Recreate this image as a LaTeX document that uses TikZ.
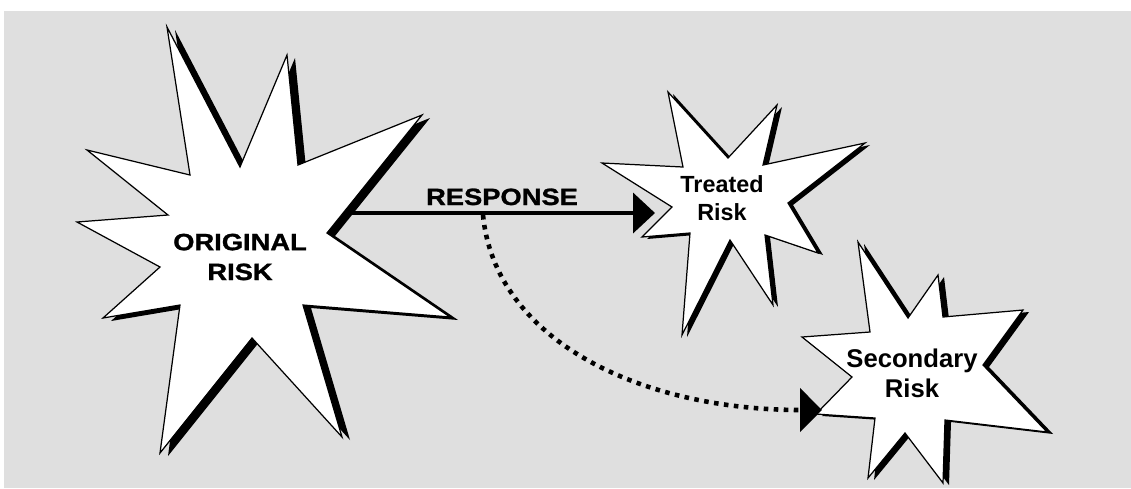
\documentclass[tikz,border=0pt]{standalone}
\usepackage{fontspec}
\setmainfont{Liberation Sans}
\newfontfamily\heavyfont{Liberation Sans}[BoldFeatures={FakeStretch=1.16, FakeBold=1.2}]
\usetikzlibrary{arrows.meta}
\definecolor{panelgray}{RGB}{223,223,223}

% burst with a hard black drop shadow: #1 shadow offset, #2 outline points
\newcommand{\burst}[2]{%
  \fill[black, shift={#1}] #2 -- cycle;
  \filldraw[fill=white, draw=black, line width=0.7pt] #2 -- cycle;
}

\begin{document}
\begin{tikzpicture}[x=0.02cm, y=-0.02cm,
    capslabel/.style={font=\heavyfont\bfseries\fontsize{13.4}{17}\selectfont, align=center, inner sep=0pt},
    burstlabel/.style={font=\bfseries\fontsize{13.3}{16}\selectfont, align=center, inner sep=0pt},
    responsearrow/.style={line width=2.3pt, -{Triangle[length=0.44cm, width=0.8cm]}},
    sidearrow/.style={line width=2.6pt, dash pattern=on 2.6pt off 3.1pt, -{Triangle[length=0.44cm, width=0.86cm]}}]
    \useasboundingbox (0,0) rectangle (1131,488);
    \fill[panelgray] (4,11) rectangle (1131,488);

    % Original risk
    \burst{(8,3)}{(167,27) -- (240,167) -- (287,55) -- (298,165) -- (422,115) -- (327,233) -- (450,317) -- (303,305) -- (342,437) -- (252,338) -- (160,453) -- (180,305) -- (103,318) -- (160,267) -- (77,222) -- (168,215) -- (87,150) -- (190,175)}
    % Treated risk
    \burst{(5,2)}{(668,92) -- (728,158) -- (777,105) -- (763,165) -- (865,143) -- (788,203) -- (818,253) -- (765,235) -- (773,305) -- (730,240) -- (682,335) -- (690,233) -- (642,237) -- (672,207) -- (602,163) -- (683,167)}
    % Secondary risk
    \burst{(6,2)}{(858,242) -- (908,318) -- (938,275) -- (943,317) -- (1023,310) -- (983,365) -- (1047,432) -- (945,420) -- (943,483) -- (905,433) -- (868,478) -- (875,418) -- (816,414) -- (852,377) -- (802,337) -- (870,332)}

    \node[capslabel] (orig) at (240,257) {ORIGINAL\\RISK};
    \node[burstlabel] (treated) at (722,198) {Treated\\Risk};
    \node[burstlabel, font=\bfseries\fontsize{14.6}{17}\selectfont] (secondary) at (912,373) {Secondary\\Risk};

    % Response arrows
    \coordinate (respstart) at (350,213);
    \coordinate (treatin) at (655,213);
    \coordinate (branch) at (483,215);
    \coordinate (secin) at (822,410);
    \draw[responsearrow] (respstart) -- (treatin);
    \node[capslabel, anchor=base] (resplabel) at (502,205) {RESPONSE};
    \draw[sidearrow] (branch) .. controls (495,340) and (640,410) .. (secin);
\end{tikzpicture}
\end{document}
